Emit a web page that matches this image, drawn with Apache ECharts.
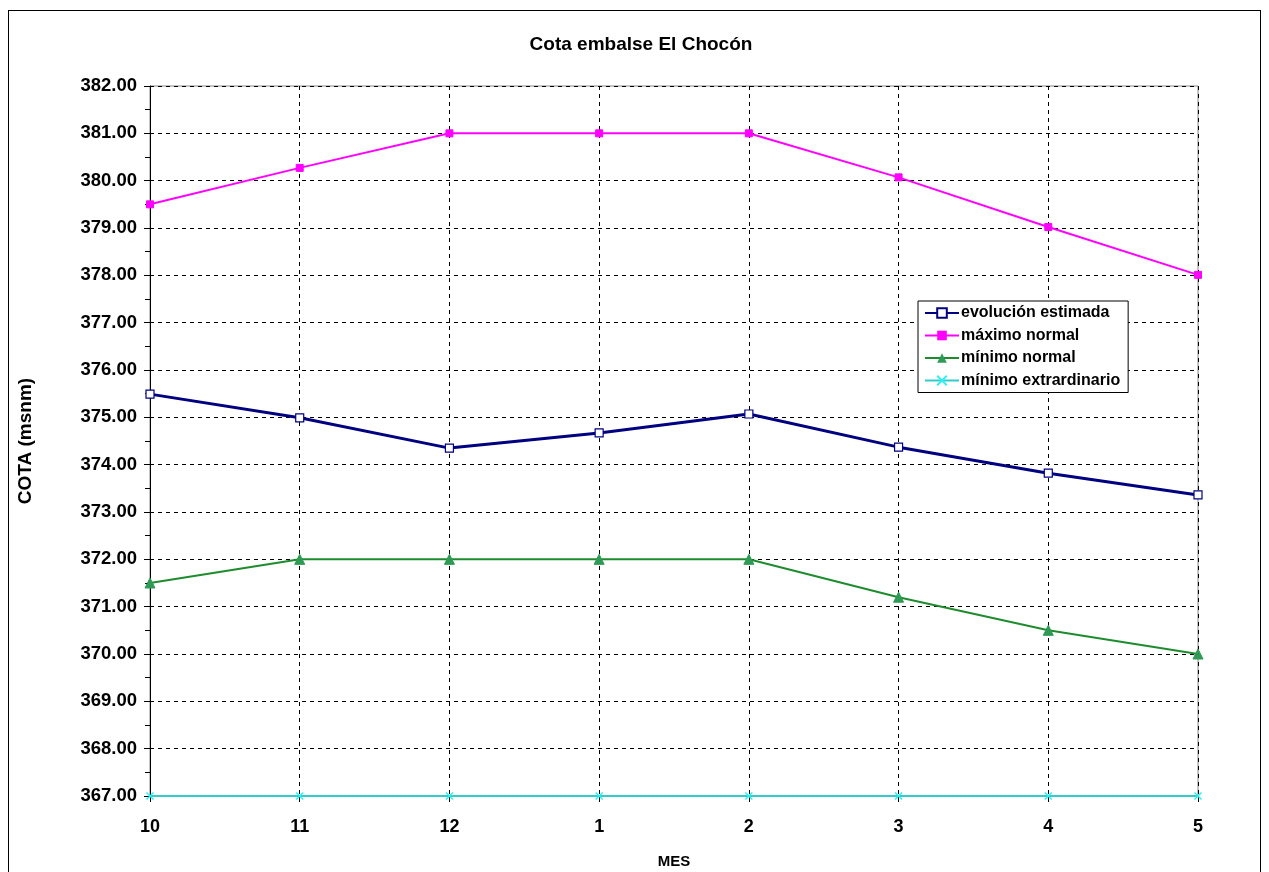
<!DOCTYPE html>
<html><head><meta charset="utf-8">
<script src="https://cdn.jsdelivr.net/npm/echarts@6/dist/echarts.min.js"></script>
<style>html,body{margin:0;padding:0;background:#fff;overflow:hidden}#c{width:1269px;height:872px}
#frame{position:absolute;left:8px;top:10px;width:1253px;height:862px;border:1px solid #000;border-bottom:none;box-sizing:border-box;pointer-events:none}</style>
</head><body><div id="c"></div><div id="frame"></div>
<script>
const categories = ['10','11','12','1','2','3','4','5'];
const evolucion = [375.49, 374.99, 374.35, 374.67, 375.07, 374.37, 373.82, 373.36];
const maximoNormal = [379.50, 380.27, 381.00, 381.00, 381.00, 380.07, 379.02, 378.01];
const minimoNormal = [371.50, 372.00, 372.00, 372.00, 372.00, 371.20, 370.50, 370.00];
const minimoExtra = [367.00, 367.00, 367.00, 367.00, 367.00, 367.00, 367.00, 367.00];
const seriesNames = ['evolución estimada','máximo normal','mínimo normal','mínimo extrardinario'];

const font = 'Liberation Sans, Arial, sans-serif';
const chart = echarts.init(document.getElementById('c'));
const xSym = 'path://M0,0L10,10M10,0L0,10';
chart.setOption({
  animation: false,
  title: {text: 'Cota embalse El Chocón', left: 636, top: 30, textAlign: 'center',
    textStyle: {fontFamily: font, fontWeight: 'bold', fontSize: 19, color: '#000'}},
  grid: {left: 150, right: 71, top: 86, bottom: 76, containLabel: false, outerBoundsMode: 'none',
    show: true, borderColor: '#888', borderWidth: 1},
  legend: {
    orient: 'vertical', left: 918, top: 301, itemGap: 6.5, itemWidth: 34, itemHeight: 12,
    padding: [4, 8, 4, 6], borderColor: '#000', borderWidth: 1, backgroundColor: '#fff',
    textStyle: {fontFamily: font, fontWeight: 'bold', fontSize: 16, color: '#000', padding: [0,0,0,-3]},
    data: seriesNames
  },
  xAxis: {
    type: 'category', data: categories, boundaryGap: false,
    name: 'MES', nameLocation: 'middle', nameGap: 58,
    nameTextStyle: {fontFamily: font, fontWeight: 'bold', fontSize: 15, color: '#000'},
    axisLine: {lineStyle: {color: '#000'}},
    axisTick: {show: true, length: 6, lineStyle: {color: '#000'}},
    axisLabel: {fontFamily: font, fontWeight: 'bold', fontSize: 18, color: '#000', margin: 22},
    splitLine: {show: true, lineStyle: {color: '#000', type: [4, 4], width: 1}}
  },
  yAxis: {
    type: 'value', min: 367, max: 382, interval: 1,
    name: 'COTA (msnm)', nameLocation: 'middle', nameGap: 115,
    nameTextStyle: {fontFamily: font, fontWeight: 'bold', fontSize: 19, color: '#000'},
    axisLine: {show: true, lineStyle: {color: '#000'}},
    axisTick: {show: true, length: 6, lineStyle: {color: '#000'}},
    minorTick: {show: true, splitNumber: 2, length: 5, lineStyle: {color: '#000'}},
    axisLabel: {fontFamily: font, fontWeight: 'bold', fontSize: 18.5, color: '#000', margin: 13,
      formatter: v => v.toFixed(2)},
    splitLine: {show: true, lineStyle: {color: '#000', type: [4, 4], width: 1}}
  },
  series: [
    {name: seriesNames[0], type: 'line', data: evolucion, symbol: 'rect', symbolSize: 8,
      lineStyle: {color: '#000080', width: 3},
      itemStyle: {color: '#fff', borderColor: '#000080', borderWidth: 1.2}, z: 5},
    {name: seriesNames[1], type: 'line', data: maximoNormal, symbol: 'rect', symbolSize: 7,
      lineStyle: {color: '#FF00FF', width: 2},
      itemStyle: {color: '#FF00FF', borderColor: '#FF00FF'}, z: 4},
    {name: seriesNames[2], type: 'line', data: minimoNormal, symbol: 'triangle', symbolSize: 10,
      lineStyle: {color: '#1E8C2E', width: 2},
      itemStyle: {color: '#2E9A55', borderColor: '#2E9A55'}, z: 3},
    {name: seriesNames[3], type: 'line', data: minimoExtra, symbol: xSym, symbolSize: 7,
      lineStyle: {color: '#33CCCC', width: 2},
      itemStyle: {color: '#33FFFF', borderColor: '#33EEEE', borderWidth: 1.5}, z: 6}
  ]
});
</script></body></html>
